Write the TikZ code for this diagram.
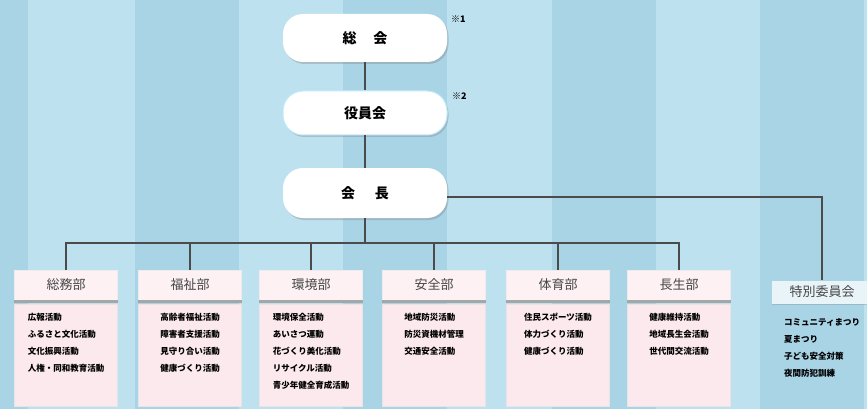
\documentclass[tikz,border=0pt]{standalone}
\usepackage{fontspec}
\newfontfamily\jp{Noto Sans CJK JP}
\usetikzlibrary{shadows}
\definecolor{bglight}{RGB}{190,225,239}
\definecolor{bgdark}{RGB}{168,212,230}
\definecolor{ln}{RGB}{75,75,75}
\definecolor{pinkhead}{RGB}{253,241,244}
\definecolor{pinkbody}{RGB}{251,233,237}
\definecolor{spechead}{RGB}{233,244,249}
\definecolor{headtxt}{RGB}{70,70,70}
\begin{document}
\begin{tikzpicture}[x=1pt,y=-1pt,font=\jp,
  topbox/.style={rounded corners=20pt, fill=white, minimum width=164pt, minimum height=48pt,
    font=\jp\bfseries\fontsize{14}{14}\selectfont,
    drop shadow={shadow xshift=1.5pt, shadow yshift=-2pt, fill=gray, opacity=0.35}},
  conn/.style={draw=ln, line width=1.1pt},
  headbox/.style={fill=pinkhead, draw=white!85!gray, line width=0.4pt, minimum width=103pt, minimum height=30pt,
    inner sep=0pt, text=headtxt, font=\jp\fontsize{13}{13}\selectfont},
  bodybox/.style={fill=pinkbody, draw=white!80!gray, line width=0.5pt, minimum width=103pt, minimum height=102pt,
    anchor=north, inner sep=0pt},
  listtxt/.style={anchor=north, align=left, inner sep=0pt, font=\jp\bfseries\fontsize{8.5}{17}\selectfont},
  note/.style={font=\jp\bfseries\fontsize{9}{9}\selectfont, inner sep=0pt}
]
\useasboundingbox (0,0) rectangle (867,409);
\clip (0,0) rectangle (867,409);
% background stripes
\fill[bglight] (0,0) rectangle (867,409);
\foreach \x in {-76,135,343,552,760} {
  \fill[bgdark] (\x,0) rectangle (\x+104,409);
}
% top nodes
\node[topbox] (g) at (365,38) {総\hspace{1.2em}会};
\node[topbox, draw=cyan!25!white, line width=1pt, minimum height=44pt] (y) at (365,113) {役員会};
\node[topbox, minimum height=50pt] (c) at (365,193) {会\hspace{1.4em}長};
\node[note, anchor=west] (n1) at (451,19) {※1};
\node[note, anchor=west] (n2) at (452,96) {※2};
% departments
\foreach \i/\cx/\name in {1/66/総務部,2/190/福祉部,3/311/環境部,4/434/安全部,5/558/体育部,6/679/長生部} {
  \node[headbox] (h\i) at (\cx,285) {\name};
  \draw[gray!70, line width=2.5pt] ([yshift=-1.5pt]h\i.south west) -- ([yshift=-1.5pt]h\i.south east);
  \node[bodybox] (b\i) at (\cx,304) {};
}
\node[listtxt] (t1) at (66,313) {広報活動\\ふるさと文化活動\\文化振興活動\\人権・同和教育活動};
\node[listtxt] (t2) at (190,313) {高齢者福祉活動\\障害者支援活動\\見守り合い活動\\健康づくり活動};
\node[listtxt] (t3) at (311,313) {環境保全活動\\あいさつ運動\\花づくり美化活動\\リサイクル活動\\青少年健全育成活動};
\node[listtxt] (t4) at (434,313) {地域防災活動\\防災資機材管理\\交通安全活動};
\node[listtxt] (t5) at (558,313) {住民スポーツ活動\\体力づくり活動\\健康づくり活動};
\node[listtxt] (t6) at (679,313) {健康維持活動\\地域長生会活動\\世代間交流活動};
% special committee
\node[fill=spechead, minimum width=100pt, minimum height=23pt, inner sep=0pt, text=headtxt,
  font=\jp\fontsize{13}{13}\selectfont,
  drop shadow={shadow xshift=0pt, shadow yshift=-1.5pt, fill=gray, opacity=0.3}] (h7) at (822,292) {特別委員会};
\node[listtxt, anchor=north west] (t7) at (784,318) {コミュニティまつり\\夏まつり\\子ども安全対策\\夜間防犯訓練};
% connectors
\coordinate (bus) at (365,243);
\draw[conn] (g.south) -- (y.north);
\draw[conn] (y.south) -- (c.north);
\draw[conn] (c.south) -- (bus);
\draw[conn] (h1.north) -- (h1.north |- bus) -- (h6.north |- bus) -- (h6.north);
\foreach \i in {2,3,4,5} { \draw[conn] (h\i.north) -- (h\i.north |- bus); }
\draw[conn] ([yshift=-4pt]c.east) -| (h7.north);
\end{tikzpicture}
\end{document}
